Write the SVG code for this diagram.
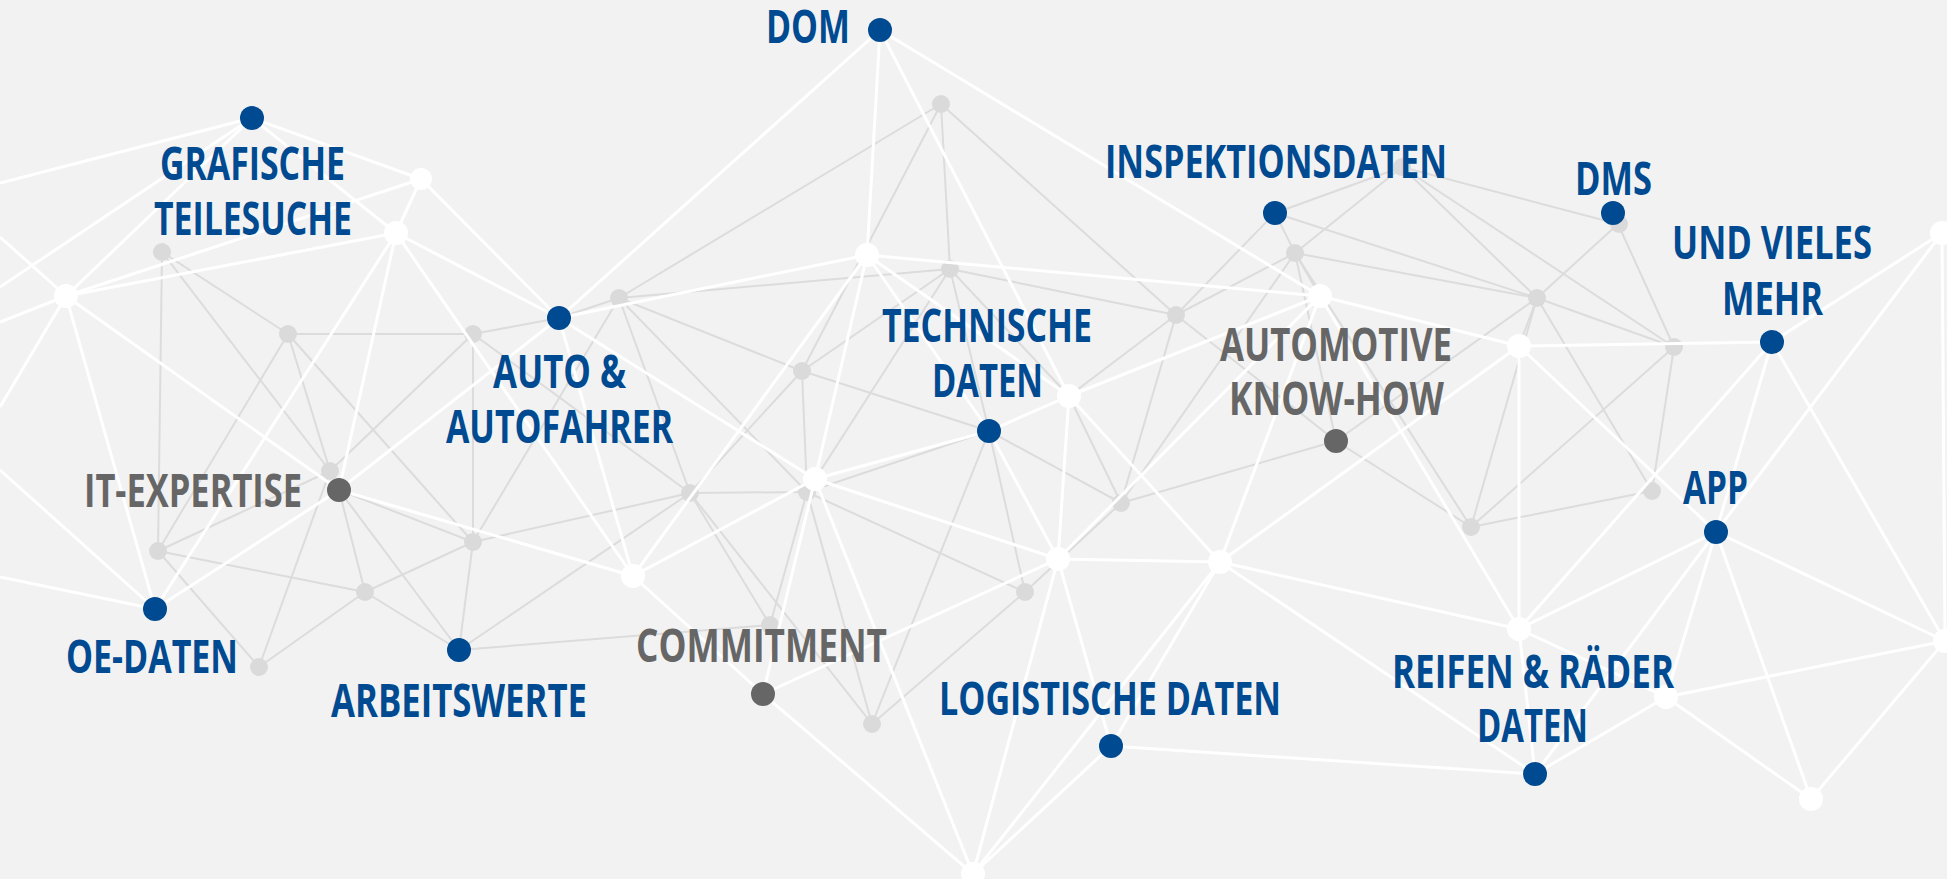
<svg xmlns="http://www.w3.org/2000/svg" width="1947" height="879" viewBox="0 0 1947 879">
<style>
.gl{stroke:#dcdcdc;stroke-width:2;fill:none}
.wl{stroke:#ffffff;stroke-width:3;fill:none}
.gn{fill:#dadada}
.wn{fill:#ffffff}
.bn{fill:#004a91}
.dn{fill:#666666}
.t{font-family:"Open Sans","Liberation Sans",sans-serif;font-weight:700;font-size:46px;text-anchor:middle}
.tb{fill:#004a91}
.tg{fill:#666666}
</style>
<rect x="0" y="0" width="1947" height="879" fill="#f2f2f2"/>
<g id="connectors">
<g id="grey-links">
<line class="gl" x1="162" y1="252" x2="158" y2="551"/>
<line class="gl" x1="162" y1="252" x2="288" y2="334"/>
<line class="gl" x1="162" y1="252" x2="330" y2="471"/>
<line class="gl" x1="288" y1="334" x2="473" y2="334"/>
<line class="gl" x1="288" y1="334" x2="158" y2="551"/>
<line class="gl" x1="288" y1="334" x2="330" y2="471"/>
<line class="gl" x1="288" y1="334" x2="473" y2="542"/>
<line class="gl" x1="473" y1="334" x2="473" y2="542"/>
<line class="gl" x1="473" y1="334" x2="330" y2="471"/>
<line class="gl" x1="473" y1="334" x2="559" y2="318"/>
<line class="gl" x1="473" y1="334" x2="690" y2="493"/>
<line class="gl" x1="330" y1="471" x2="158" y2="551"/>
<line class="gl" x1="330" y1="471" x2="259" y2="667"/>
<line class="gl" x1="339" y1="490" x2="365" y2="592"/>
<line class="gl" x1="339" y1="490" x2="459" y2="650"/>
<line class="gl" x1="339" y1="490" x2="473" y2="542"/>
<line class="gl" x1="158" y1="551" x2="365" y2="592"/>
<line class="gl" x1="158" y1="551" x2="259" y2="667"/>
<line class="gl" x1="365" y1="592" x2="259" y2="667"/>
<line class="gl" x1="365" y1="592" x2="459" y2="650"/>
<line class="gl" x1="365" y1="592" x2="473" y2="542"/>
<line class="gl" x1="473" y1="542" x2="459" y2="650"/>
<line class="gl" x1="473" y1="542" x2="690" y2="493"/>
<line class="gl" x1="473" y1="542" x2="619" y2="298"/>
<line class="gl" x1="459" y1="650" x2="770" y2="625"/>
<line class="gl" x1="459" y1="650" x2="690" y2="493"/>
<line class="gl" x1="559" y1="318" x2="619" y2="298"/>
<line class="gl" x1="619" y1="298" x2="941" y2="104"/>
<line class="gl" x1="619" y1="298" x2="950" y2="269"/>
<line class="gl" x1="619" y1="298" x2="802" y2="371"/>
<line class="gl" x1="619" y1="298" x2="807" y2="492"/>
<line class="gl" x1="619" y1="298" x2="690" y2="493"/>
<line class="gl" x1="941" y1="104" x2="802" y2="371"/>
<line class="gl" x1="941" y1="104" x2="950" y2="269"/>
<line class="gl" x1="941" y1="104" x2="1176" y2="315"/>
<line class="gl" x1="950" y1="269" x2="802" y2="371"/>
<line class="gl" x1="950" y1="269" x2="989" y2="431"/>
<line class="gl" x1="950" y1="269" x2="1069" y2="396"/>
<line class="gl" x1="950" y1="269" x2="807" y2="492"/>
<line class="gl" x1="950" y1="269" x2="1176" y2="315"/>
<line class="gl" x1="802" y1="371" x2="989" y2="431"/>
<line class="gl" x1="802" y1="371" x2="807" y2="492"/>
<line class="gl" x1="802" y1="371" x2="690" y2="493"/>
<line class="gl" x1="690" y1="493" x2="807" y2="492"/>
<line class="gl" x1="690" y1="493" x2="770" y2="625"/>
<line class="gl" x1="690" y1="493" x2="872" y2="724"/>
<line class="gl" x1="807" y1="492" x2="770" y2="625"/>
<line class="gl" x1="807" y1="492" x2="872" y2="724"/>
<line class="gl" x1="807" y1="492" x2="1025" y2="592"/>
<line class="gl" x1="807" y1="492" x2="989" y2="431"/>
<line class="gl" x1="989" y1="431" x2="872" y2="724"/>
<line class="gl" x1="989" y1="431" x2="1025" y2="592"/>
<line class="gl" x1="989" y1="431" x2="1121" y2="503"/>
<line class="gl" x1="872" y1="724" x2="1025" y2="592"/>
<line class="gl" x1="1025" y1="592" x2="1121" y2="503"/>
<line class="gl" x1="1069" y1="396" x2="1121" y2="503"/>
<line class="gl" x1="1069" y1="396" x2="1176" y2="315"/>
<line class="gl" x1="1176" y1="315" x2="1275" y2="213"/>
<line class="gl" x1="1176" y1="315" x2="1295" y2="253"/>
<line class="gl" x1="1176" y1="315" x2="1121" y2="503"/>
<line class="gl" x1="1176" y1="315" x2="1336" y2="441"/>
<line class="gl" x1="1275" y1="213" x2="1402" y2="167"/>
<line class="gl" x1="1275" y1="213" x2="1295" y2="253"/>
<line class="gl" x1="1275" y1="213" x2="1537" y2="298"/>
<line class="gl" x1="1402" y1="167" x2="1295" y2="253"/>
<line class="gl" x1="1402" y1="167" x2="1618" y2="224"/>
<line class="gl" x1="1402" y1="167" x2="1537" y2="298"/>
<line class="gl" x1="1402" y1="167" x2="1674" y2="347"/>
<line class="gl" x1="1295" y1="253" x2="1537" y2="298"/>
<line class="gl" x1="1295" y1="253" x2="1320" y2="296"/>
<line class="gl" x1="1295" y1="253" x2="1336" y2="441"/>
<line class="gl" x1="1295" y1="253" x2="1121" y2="503"/>
<line class="gl" x1="1295" y1="253" x2="1471" y2="527"/>
<line class="gl" x1="1336" y1="441" x2="1471" y2="527"/>
<line class="gl" x1="1336" y1="441" x2="1121" y2="503"/>
<line class="gl" x1="1336" y1="441" x2="1537" y2="298"/>
<line class="gl" x1="1537" y1="298" x2="1519" y2="346"/>
<line class="gl" x1="1537" y1="298" x2="1618" y2="224"/>
<line class="gl" x1="1537" y1="298" x2="1674" y2="347"/>
<line class="gl" x1="1537" y1="298" x2="1652" y2="491"/>
<line class="gl" x1="1537" y1="298" x2="1471" y2="527"/>
<line class="gl" x1="1618" y1="224" x2="1674" y2="347"/>
<line class="gl" x1="1674" y1="347" x2="1471" y2="527"/>
<line class="gl" x1="1674" y1="347" x2="1652" y2="491"/>
<line class="gl" x1="1471" y1="527" x2="1652" y2="491"/>
</g>
<g id="grey-joints">
<circle class="gn" cx="162" cy="252" r="9"/>
<circle class="gn" cx="288" cy="334" r="9"/>
<circle class="gn" cx="473" cy="334" r="9"/>
<circle class="gn" cx="619" cy="298" r="9"/>
<circle class="gn" cx="941" cy="104" r="9"/>
<circle class="gn" cx="950" cy="269" r="9"/>
<circle class="gn" cx="802" cy="371" r="9"/>
<circle class="gn" cx="1176" cy="315" r="9"/>
<circle class="gn" cx="1295" cy="253" r="9"/>
<circle class="gn" cx="1402" cy="167" r="9"/>
<circle class="gn" cx="1537" cy="298" r="9"/>
<circle class="gn" cx="1674" cy="347" r="9"/>
<circle class="gn" cx="1619" cy="224" r="9"/>
<circle class="gn" cx="1471" cy="527" r="9"/>
<circle class="gn" cx="1652" cy="491" r="9"/>
<circle class="gn" cx="1121" cy="503" r="9"/>
<circle class="gn" cx="1025" cy="592" r="9"/>
<circle class="gn" cx="872" cy="724" r="9"/>
<circle class="gn" cx="770" cy="625" r="9"/>
<circle class="gn" cx="690" cy="493" r="9"/>
<circle class="gn" cx="807" cy="492" r="9"/>
<circle class="gn" cx="330" cy="471" r="9"/>
<circle class="gn" cx="158" cy="551" r="9"/>
<circle class="gn" cx="365" cy="592" r="9"/>
<circle class="gn" cx="473" cy="542" r="9"/>
<circle class="gn" cx="259" cy="667" r="9"/>
</g>
<g id="white-links">
<line class="wl" x1="252" y1="118" x2="0" y2="183"/>
<line class="wl" x1="252" y1="118" x2="0" y2="287"/>
<line class="wl" x1="252" y1="118" x2="66" y2="296"/>
<line class="wl" x1="252" y1="118" x2="421" y2="179"/>
<line class="wl" x1="252" y1="118" x2="396" y2="233"/>
<line class="wl" x1="66" y1="296" x2="0" y2="237"/>
<line class="wl" x1="66" y1="296" x2="0" y2="322"/>
<line class="wl" x1="66" y1="296" x2="0" y2="407"/>
<line class="wl" x1="66" y1="296" x2="421" y2="179"/>
<line class="wl" x1="66" y1="296" x2="396" y2="233"/>
<line class="wl" x1="66" y1="296" x2="155" y2="609"/>
<line class="wl" x1="66" y1="296" x2="339" y2="490"/>
<line class="wl" x1="421" y1="179" x2="396" y2="233"/>
<line class="wl" x1="421" y1="179" x2="559" y2="318"/>
<line class="wl" x1="396" y1="233" x2="559" y2="318"/>
<line class="wl" x1="396" y1="233" x2="633" y2="576"/>
<line class="wl" x1="396" y1="233" x2="339" y2="490"/>
<line class="wl" x1="396" y1="233" x2="155" y2="609"/>
<line class="wl" x1="155" y1="609" x2="0" y2="470"/>
<line class="wl" x1="155" y1="609" x2="0" y2="577"/>
<line class="wl" x1="155" y1="609" x2="339" y2="490"/>
<line class="wl" x1="339" y1="490" x2="633" y2="576"/>
<line class="wl" x1="339" y1="490" x2="559" y2="318"/>
<line class="wl" x1="559" y1="318" x2="880" y2="30"/>
<line class="wl" x1="559" y1="318" x2="867" y2="255"/>
<line class="wl" x1="559" y1="318" x2="633" y2="576"/>
<line class="wl" x1="559" y1="318" x2="815" y2="479"/>
<line class="wl" x1="880" y1="30" x2="867" y2="255"/>
<line class="wl" x1="880" y1="30" x2="1069" y2="396"/>
<line class="wl" x1="880" y1="30" x2="1320" y2="296"/>
<line class="wl" x1="867" y1="255" x2="1320" y2="296"/>
<line class="wl" x1="867" y1="255" x2="633" y2="576"/>
<line class="wl" x1="867" y1="255" x2="815" y2="479"/>
<line class="wl" x1="867" y1="255" x2="989" y2="431"/>
<line class="wl" x1="867" y1="255" x2="1069" y2="396"/>
<line class="wl" x1="633" y1="576" x2="815" y2="479"/>
<line class="wl" x1="633" y1="576" x2="763" y2="694"/>
<line class="wl" x1="815" y1="479" x2="989" y2="431"/>
<line class="wl" x1="815" y1="479" x2="1058" y2="559"/>
<line class="wl" x1="815" y1="479" x2="763" y2="694"/>
<line class="wl" x1="815" y1="479" x2="973" y2="874"/>
<line class="wl" x1="989" y1="431" x2="1069" y2="396"/>
<line class="wl" x1="989" y1="431" x2="1058" y2="559"/>
<line class="wl" x1="1069" y1="396" x2="1320" y2="296"/>
<line class="wl" x1="1069" y1="396" x2="1058" y2="559"/>
<line class="wl" x1="1069" y1="396" x2="1220" y2="562"/>
<line class="wl" x1="1320" y1="296" x2="1058" y2="559"/>
<line class="wl" x1="1320" y1="296" x2="1220" y2="562"/>
<line class="wl" x1="1320" y1="296" x2="1519" y2="346"/>
<line class="wl" x1="1320" y1="296" x2="1519" y2="629"/>
<line class="wl" x1="1058" y1="559" x2="1220" y2="562"/>
<line class="wl" x1="1058" y1="559" x2="763" y2="694"/>
<line class="wl" x1="1058" y1="559" x2="973" y2="874"/>
<line class="wl" x1="1058" y1="559" x2="1111" y2="746"/>
<line class="wl" x1="1220" y1="562" x2="1519" y2="346"/>
<line class="wl" x1="1220" y1="562" x2="1519" y2="629"/>
<line class="wl" x1="1220" y1="562" x2="1535" y2="774"/>
<line class="wl" x1="1220" y1="562" x2="973" y2="874"/>
<line class="wl" x1="1220" y1="562" x2="1111" y2="746"/>
<line class="wl" x1="763" y1="694" x2="973" y2="874"/>
<line class="wl" x1="1111" y1="746" x2="973" y2="874"/>
<line class="wl" x1="1111" y1="746" x2="1535" y2="774"/>
<line class="wl" x1="1519" y1="346" x2="1772" y2="342"/>
<line class="wl" x1="1519" y1="346" x2="1716" y2="532"/>
<line class="wl" x1="1519" y1="346" x2="1519" y2="629"/>
<line class="wl" x1="1772" y1="342" x2="1519" y2="629"/>
<line class="wl" x1="1772" y1="342" x2="1716" y2="532"/>
<line class="wl" x1="1772" y1="342" x2="1945" y2="641"/>
<line class="wl" x1="1772" y1="342" x2="1942" y2="233"/>
<line class="wl" x1="1942" y1="233" x2="1716" y2="532"/>
<line class="wl" x1="1942" y1="233" x2="1945" y2="641"/>
<line class="wl" x1="1519" y1="629" x2="1716" y2="532"/>
<line class="wl" x1="1519" y1="629" x2="1666" y2="697"/>
<line class="wl" x1="1519" y1="629" x2="1535" y2="774"/>
<line class="wl" x1="1716" y1="532" x2="1945" y2="641"/>
<line class="wl" x1="1716" y1="532" x2="1666" y2="697"/>
<line class="wl" x1="1716" y1="532" x2="1811" y2="799"/>
<line class="wl" x1="1716" y1="532" x2="1535" y2="774"/>
<line class="wl" x1="1535" y1="774" x2="1666" y2="697"/>
<line class="wl" x1="1666" y1="697" x2="1945" y2="641"/>
<line class="wl" x1="1666" y1="697" x2="1811" y2="799"/>
<line class="wl" x1="1945" y1="641" x2="1811" y2="799"/>
</g>
<g id="white-joints">
<circle class="wn" cx="66" cy="296" r="12"/>
<circle class="wn" cx="421" cy="179" r="11"/>
<circle class="wn" cx="396" cy="233" r="12"/>
<circle class="wn" cx="867" cy="255" r="12"/>
<circle class="wn" cx="1320" cy="296" r="12"/>
<circle class="wn" cx="1519" cy="346" r="12"/>
<circle class="wn" cx="1942" cy="233" r="12"/>
<circle class="wn" cx="1069" cy="396" r="12"/>
<circle class="wn" cx="815" cy="479" r="12"/>
<circle class="wn" cx="633" cy="576" r="12"/>
<circle class="wn" cx="1058" cy="559" r="12"/>
<circle class="wn" cx="1220" cy="562" r="12"/>
<circle class="wn" cx="1519" cy="629" r="12"/>
<circle class="wn" cx="1666" cy="697" r="12"/>
<circle class="wn" cx="1945" cy="641" r="12"/>
<circle class="wn" cx="1811" cy="799" r="12"/>
<circle class="wn" cx="973" cy="874" r="12"/>
</g>
</g>
<g id="node-dom"><circle class="bn" cx="880" cy="30" r="12"/><text class="t tb" x="808" y="43" textLength="84" lengthAdjust="spacingAndGlyphs">DOM</text></g>
<g id="node-grafische-teilesuche"><circle class="bn" cx="252" cy="118" r="12"/><text class="t tb" x="252.5" y="180" textLength="185" lengthAdjust="spacingAndGlyphs">GRAFISCHE</text><text class="t tb" x="253" y="235" textLength="198" lengthAdjust="spacingAndGlyphs">TEILESUCHE</text></g>
<g id="node-auto-autofahrer"><circle class="bn" cx="559" cy="318" r="12"/><text class="t tb" x="559.5" y="388" textLength="133" lengthAdjust="spacingAndGlyphs">AUTO &amp;</text><text class="t tb" x="559.5" y="443" textLength="227" lengthAdjust="spacingAndGlyphs">AUTOFAHRER</text></g>
<g id="node-inspektionsdaten"><circle class="bn" cx="1275" cy="213" r="12"/><text class="t tb" x="1276" y="178" textLength="342" lengthAdjust="spacingAndGlyphs">INSPEKTIONSDATEN</text></g>
<g id="node-dms"><circle class="bn" cx="1613" cy="213" r="12"/><text class="t tb" x="1613.5" y="195" textLength="77" lengthAdjust="spacingAndGlyphs">DMS</text></g>
<g id="node-und-vieles-mehr"><circle class="bn" cx="1772" cy="342" r="12"/><text class="t tb" x="1772" y="259" textLength="200" lengthAdjust="spacingAndGlyphs">UND VIELES</text><text class="t tb" x="1772.5" y="315" textLength="101" lengthAdjust="spacingAndGlyphs">MEHR</text></g>
<g id="node-technische-daten"><circle class="bn" cx="989" cy="431" r="12"/><text class="t tb" x="987" y="342" textLength="210" lengthAdjust="spacingAndGlyphs">TECHNISCHE</text><text class="t tb" x="987.5" y="397" textLength="111" lengthAdjust="spacingAndGlyphs">DATEN</text></g>
<g id="node-automotive-know-how"><circle class="dn" cx="1336" cy="441" r="12"/><text class="t tg" x="1336" y="361" textLength="232" lengthAdjust="spacingAndGlyphs">AUTOMOTIVE</text><text class="t tg" x="1336.5" y="415" textLength="215" lengthAdjust="spacingAndGlyphs">KNOW-HOW</text></g>
<g id="node-it-expertise"><circle class="dn" cx="339" cy="490" r="12"/><text class="t tg" x="193" y="507" textLength="218" lengthAdjust="spacingAndGlyphs">IT-EXPERTISE</text></g>
<g id="node-oe-daten"><circle class="bn" cx="155" cy="609" r="12"/><text class="t tb" x="152" y="673" textLength="172" lengthAdjust="spacingAndGlyphs">OE-DATEN</text></g>
<g id="node-arbeitswerte"><circle class="bn" cx="459" cy="650" r="12"/><text class="t tb" x="459" y="717" textLength="256" lengthAdjust="spacingAndGlyphs">ARBEITSWERTE</text></g>
<g id="node-commitment"><circle class="dn" cx="763" cy="694" r="12"/><text class="t tg" x="761.5" y="662" textLength="251" lengthAdjust="spacingAndGlyphs">COMMITMENT</text></g>
<g id="node-logistische-daten"><circle class="bn" cx="1111" cy="746" r="12"/><text class="t tb" x="1110" y="715" textLength="342" lengthAdjust="spacingAndGlyphs">LOGISTISCHE DATEN</text></g>
<g id="node-app"><circle class="bn" cx="1716" cy="532" r="12"/><text class="t tb" x="1715.5" y="504" textLength="65" lengthAdjust="spacingAndGlyphs">APP</text></g>
<g id="node-reifen-raeder-daten"><circle class="bn" cx="1535" cy="774" r="12"/><text class="t tb" x="1533" y="688" textLength="282" lengthAdjust="spacingAndGlyphs">REIFEN &amp; RÄDER</text><text class="t tb" x="1532.5" y="742" textLength="111" lengthAdjust="spacingAndGlyphs">DATEN</text></g>
</svg>
